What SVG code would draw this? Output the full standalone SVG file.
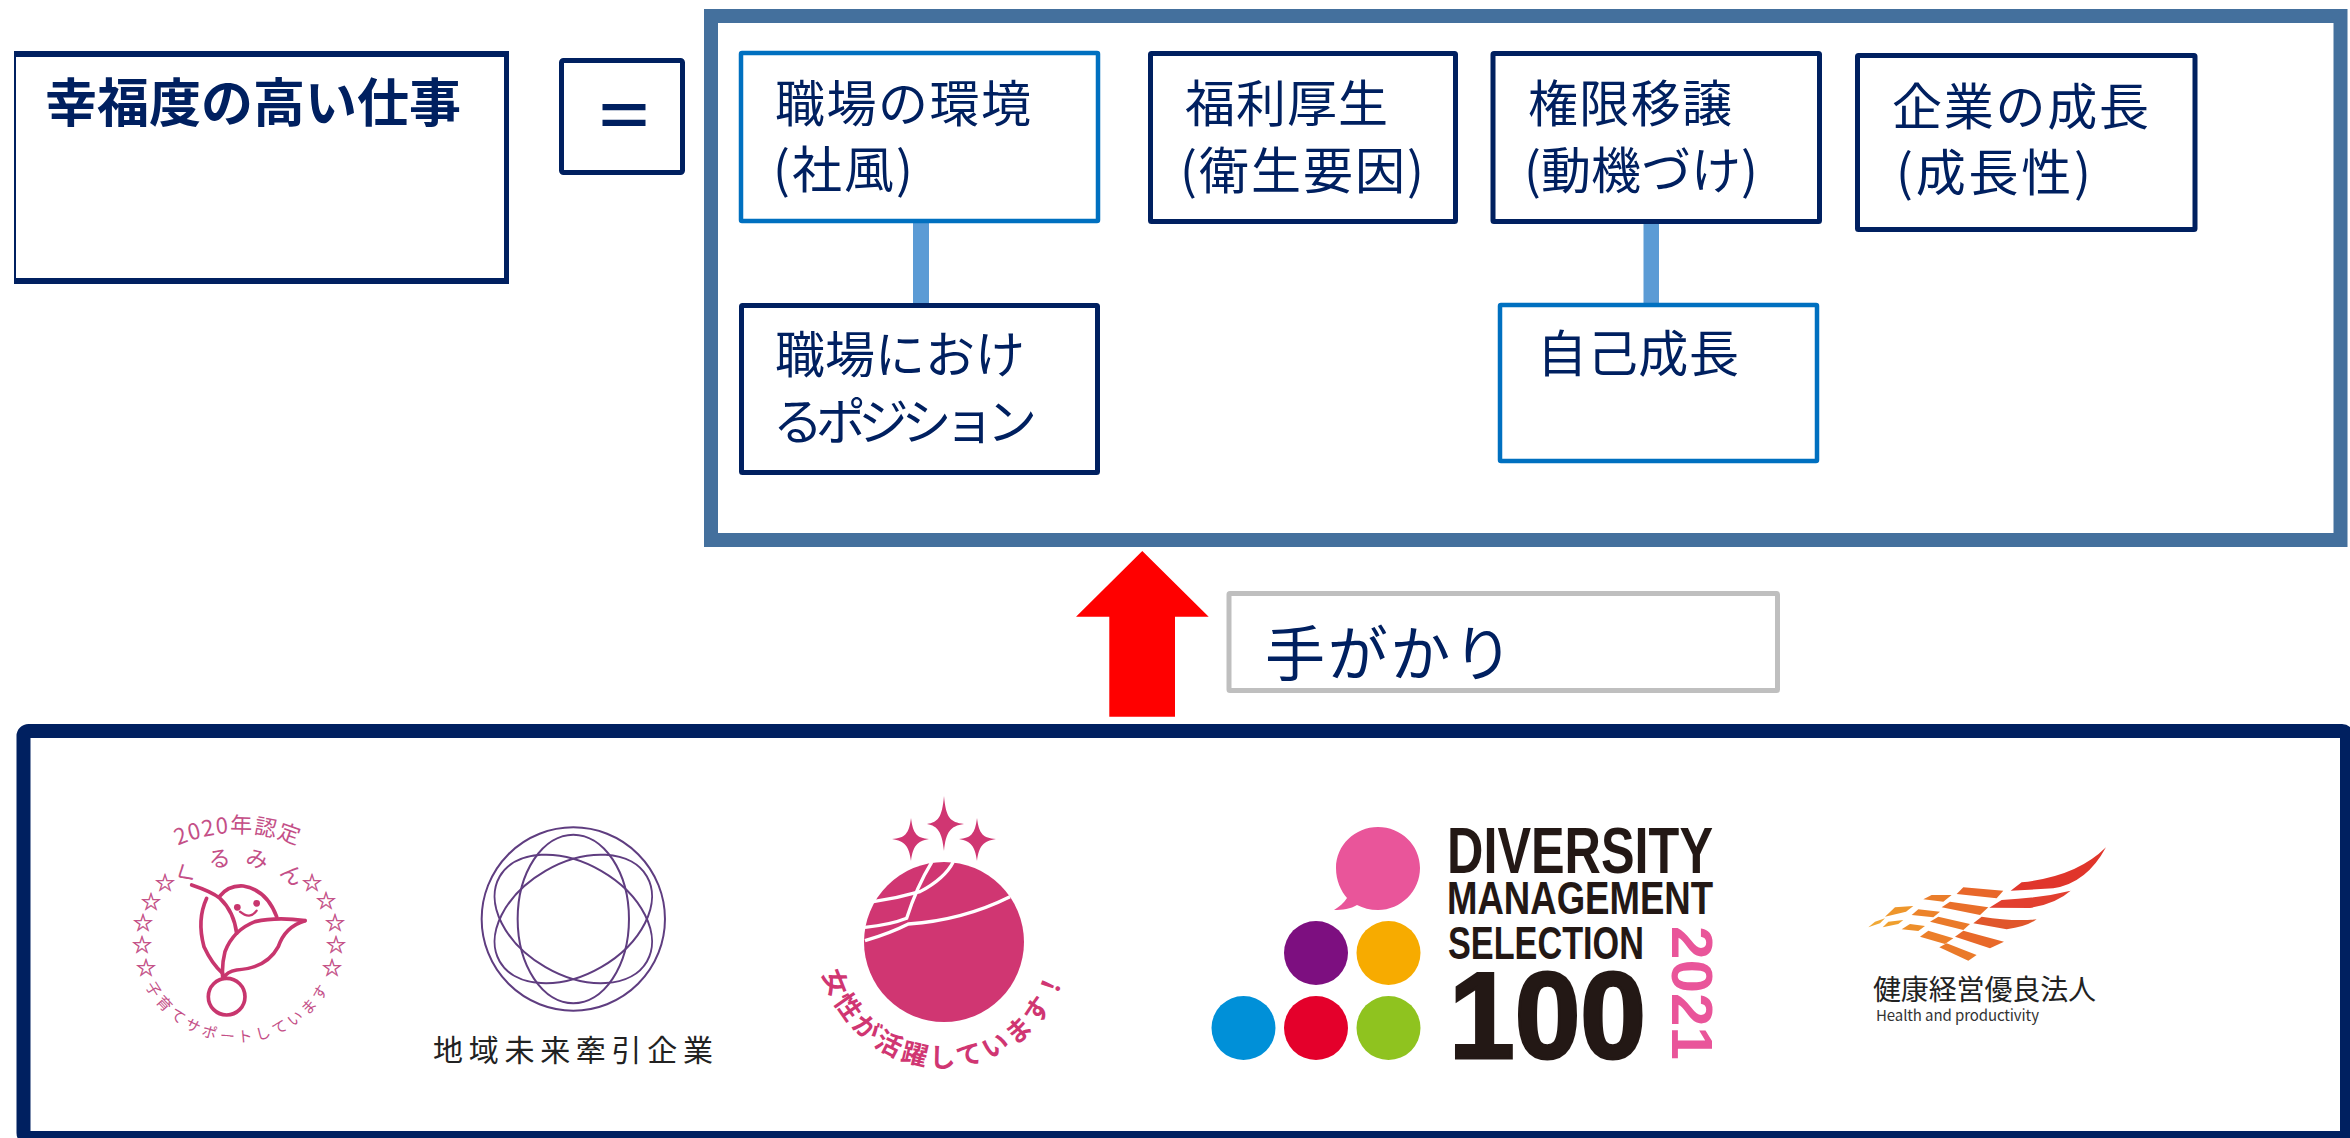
<svg xmlns="http://www.w3.org/2000/svg" width="2350" height="1138" viewBox="0 0 2350 1138">
<style>
text{font-family:"Noto Sans CJK JP","Noto Sans",sans-serif}
.t{font-size:50px;fill:#002060}
.navy{fill:#fff;stroke:#002060;stroke-width:5}
.blue{fill:#fff;stroke:#0070c0;stroke-width:4.5}
.lnk{fill:#5b9bd5}
.pk{fill:#c44f87}
.st{font-size:24px;fill:#c44f87;stroke:#c44f87;stroke-width:.5;text-anchor:middle;font-family:"DejaVu Sans",sans-serif}
.fl{fill:none;stroke:#c8366e;stroke-width:11;stroke-linejoin:round;stroke-linecap:round}
.rg{fill:none;stroke:#5f3d80;stroke-width:6}
.eb{fill:#d03672}
.dv{font-family:"Liberation Sans",sans-serif;font-weight:700;fill:#231815}
</style>
<rect width="2350" height="1138" fill="#fff"/>
<g id="connectors">
<rect class="lnk" x="913" y="222" width="16" height="83"/>
<rect class="lnk" x="1643.5" y="222" width="15.5" height="83"/>
<path id="arrow" fill="#f00" d="M1142.3 551L1208.7 616.7H1175V716.7H1109.3V616.7H1076Z"/>
</g>
<g id="node-title">
<path fill="#002060" d="M14 51H509V284H14ZM16 57V278H504V57Z" fill-rule="evenodd"/>
<text x="45" y="122" font-size="52" font-weight="700" fill="#002060" textLength="416">幸福度の高い仕事</text>
</g>
<g id="node-equals">
<rect class="navy" x="561.5" y="60.5" width="121" height="112" rx="2"/>
<text transform="translate(624 137) scale(1 .7)" font-size="84" font-weight="700" fill="#002060" text-anchor="middle" font-family="Liberation Sans">=</text>
</g>
<g id="node-group"><rect x="711" y="16" width="1629.5" height="524" fill="none" stroke="#44709d" stroke-width="14"/></g>
<g id="node-kankyo">
<rect class="blue" x="741" y="53" width="357" height="168" rx="1"/>
<text class="t" x="775" y="122" textLength="256">職場の環境</text>
<text class="t" x="773" y="188" textLength="140">(社風)</text>
</g>
<g id="node-position">
<rect class="navy" x="741.5" y="305.5" width="356" height="167" rx="1"/>
<text class="t" x="775" y="373" textLength="250">職場におけ</text>
<text class="t" x="773" y="440" textLength="264">るポジション</text>
</g>
<g id="node-fukuri">
<rect class="navy" x="1150.5" y="53.5" width="305" height="168" rx="1"/>
<text class="t" x="1185" y="122" textLength="203">福利厚生</text>
<text class="t" x="1180" y="189" textLength="244">(衛生要因)</text>
</g>
<g id="node-kengen">
<rect class="navy" x="1493" y="53.5" width="326.5" height="168" rx="1"/>
<text class="t" x="1528" y="122" textLength="204">権限移譲</text>
<text class="t" x="1524" y="189" textLength="234">(動機づけ)</text>
</g>
<g id="node-jiko">
<rect class="blue" x="1500" y="305" width="317" height="156" rx="1"/>
<text class="t" x="1537" y="372" textLength="202">自己成長</text>
</g>
<g id="node-seicho">
<rect class="navy" x="1857.5" y="55.5" width="337.5" height="174" rx="1"/>
<text class="t" x="1892" y="125" textLength="257">企業の成長</text>
<text class="t" x="1896" y="191" textLength="195">(成長性)</text>
</g>
<g id="node-tegakari">
<rect x="1229" y="593.5" width="548.5" height="97" fill="#fff" stroke="#bfbfbf" stroke-width="5" rx="1"/>
<text x="1265" y="676" font-size="60" fill="#002060" textLength="248">手がかり</text>
</g>
<g id="node-logos"><rect x="23.5" y="731" width="2323.5" height="407" rx="5" fill="none" stroke="#002060" stroke-width="14"/></g>

<defs>
<path id="kTop" d="M88 983A150 150 0 0 1 388 983"/>
<path id="kMid" d="M155 948A83 83 0 0 1 321 948"/>
<path id="kBot" d="M134 938A104 104 0 0 0 342 938"/>
<path id="eArc" d="M819 942A125 125 0 0 0 1069 942"/>
</defs>
<g id="logo-kurumin">
<text class="pk" font-size="22" text-anchor="middle" letter-spacing="1.3"><textPath href="#kTop" startOffset="50%">2020年認定</textPath></text>
<text class="pk" font-size="22" text-anchor="middle" letter-spacing="13"><textPath href="#kMid" startOffset="52.5%">くるみん</textPath></text>
<text class="pk" font-size="15" text-anchor="middle" letter-spacing="4"><textPath href="#kBot" startOffset="50%">子育てサポートしています</textPath></text>
<text class="st" x="165" y="891">☆</text><text class="st" x="151" y="910">☆</text><text class="st" x="143" y="931">☆</text><text class="st" x="142" y="953">☆</text><text class="st" x="146" y="976">☆</text>
<text class="st" x="312" y="891">☆</text><text class="st" x="326" y="909">☆</text><text class="st" x="335" y="931">☆</text><text class="st" x="336" y="953">☆</text><text class="st" x="332" y="976">☆</text>
<g transform="translate(80 770) scale(.3333)">
<path class="fl" d="M335 345Q395 365 420 385Q462 425 470 490"/>
<path class="fl" d="M380 385Q350 450 372 530Q395 580 428 610"/>
<path class="fl" d="M418 380Q445 345 490 348Q560 360 590 440"/>
<path class="fl" d="M675 452Q590 440 525 455Q460 480 435 545Q425 585 428 620"/>
<path class="fl" d="M675 452Q615 470 595 530Q560 595 470 600Q440 605 430 625"/>
<circle class="fl" cx="440" cy="680" r="55"/>
<circle cx="472" cy="412" r="10" fill="#c8366e"/><circle cx="530" cy="400" r="10" fill="#c8366e"/>
<path class="fl" style="stroke-width:7" d="M480 425Q510 450 530 422"/>
</g>
</g>
<g id="logo-chiiki">
<g transform="translate(400 770) scale(.3333)">
<circle class="rg" cx="520" cy="447" r="275"/>
<ellipse class="rg" cx="520" cy="447" rx="167" ry="253"/>
<ellipse class="rg" cx="520" cy="447" rx="255" ry="167" transform="rotate(30 520 447)"/>
<ellipse class="rg" cx="520" cy="447" rx="255" ry="167" transform="rotate(-30 520 447)"/>
</g>
<text x="433" y="1061" font-size="30" fill="#222" textLength="280">地域未来牽引企業</text>
</g>
<g id="logo-eruboshi">
<path class="eb" d="M944 796C946 818 950 822 964 824C950 826 946 832 944 851C942 832 938 826 927 824C938 822 942 818 944 796Z"/>
<path class="eb" d="M911 818C913 834 917 838 929 839C917 841 913 846 911 861C909 846 905 841 892 839C905 838 909 834 911 818Z"/>
<path class="eb" d="M977 818C979 834 983 838 996 839C983 841 979 846 977 861C975 846 971 841 959 839C971 838 975 834 977 818Z"/>
<circle class="eb" cx="944" cy="942" r="80"/>
<g transform="translate(780 770) scale(.3333)" fill="none" stroke="#fff" stroke-width="10">
<path d="M255 512Q330 490 385 462Q550 450 690 380"/>
<path d="M255 472Q330 465 380 445Q410 350 455 277"/>
<path d="M520 275Q495 325 420 365Q350 385 280 395"/>
</g>
<text class="eb" font-size="26" font-weight="700" text-anchor="middle" letter-spacing="4"><textPath href="#eArc" startOffset="50%">女性が活躍しています！</textPath></text>
</g>
<g id="logo-diversity">
<path d="M1378 827C1355 827 1336 845 1336 868C1336 881 1341 891 1347 898C1344 903 1339 907 1334 910C1342 910 1351 909 1357 905C1363 908 1370 910 1378 910C1401 910 1420 891 1420 868C1420 845 1401 827 1378 827Z" fill="#e9559a"/>
<circle cx="1316" cy="953" r="32" fill="#7d0f80"/>
<circle cx="1388.5" cy="953" r="32" fill="#f7ab00"/>
<circle cx="1243.5" cy="1028" r="32" fill="#0090d8"/>
<circle cx="1316" cy="1028" r="32" fill="#e4002b"/>
<circle cx="1388.5" cy="1028" r="32" fill="#8fc31f"/>
<text class="dv" x="1447" y="873" font-size="64" textLength="266" lengthAdjust="spacingAndGlyphs">DIVERSITY</text>
<text class="dv" x="1447" y="914" font-size="46" textLength="266" lengthAdjust="spacingAndGlyphs">MANAGEMENT</text>
<text class="dv" x="1448" y="959" font-size="46" textLength="196" lengthAdjust="spacingAndGlyphs">SELECTION</text>
<text class="dv" x="1449" y="1058" font-size="122" textLength="197" lengthAdjust="spacingAndGlyphs" stroke="#231815" stroke-width="3">100</text>
<text class="dv" transform="translate(1672 926) rotate(90)" font-size="57" textLength="134" lengthAdjust="spacingAndGlyphs" style="fill:#e9559a">2021</text>
</g>
<g id="logo-kenko">
<g transform="translate(1800 820) scale(.3333)">
<path fill="#e0352b" d="M632 212L665 187Q830 170 918 82Q860 190 760 205Z"/>
<path fill="#e23f2f" d="M568 263L605 240Q720 235 812 212Q770 250 690 264Z"/>
<path fill="#e0562b" d="M520 310L545 290Q640 305 710 298Q680 320 620 328Z"/>
<path fill="#e8672a" d="M470 222L490 202L610 212L590 235Z"/>
<path fill="#e96f2a" d="M425 262L450 245L565 262L540 285Z"/>
<path fill="#ea7a2a" d="M390 305L415 290L510 312L490 330Z"/>
<path fill="#ea7d2a" d="M370 238L395 225L455 225L430 245Z"/>
<path fill="#ec832a" d="M335 285L355 268L420 275L400 292Z"/>
<path fill="#ed8f2b" d="M305 328L330 312L375 318L355 333Z"/>
<path fill="#ee962c" d="M255 290L285 262L340 258L318 275Z"/>
<path fill="#ef9f2e" d="M248 322L265 305L310 300L295 312Z"/>
<path fill="#f0a835" d="M205 322L225 305L255 295L240 310Z"/>
<path fill="#ec7f2a" d="M360 350L385 332L460 355L435 372Z"/>
<path fill="#e8692a" d="M465 350L490 332L612 365L570 385Z"/>
<path fill="#ea7a2a" d="M418 382L440 370L530 405L505 422Z"/>
</g>
<text x="1873" y="1000" font-size="28" fill="#222" textLength="223">健康経営優良法人</text>
<text x="1876" y="1021" font-size="15" fill="#333" textLength="163" font-family="Noto Sans">Health and productivity</text>
</g>
</svg>
